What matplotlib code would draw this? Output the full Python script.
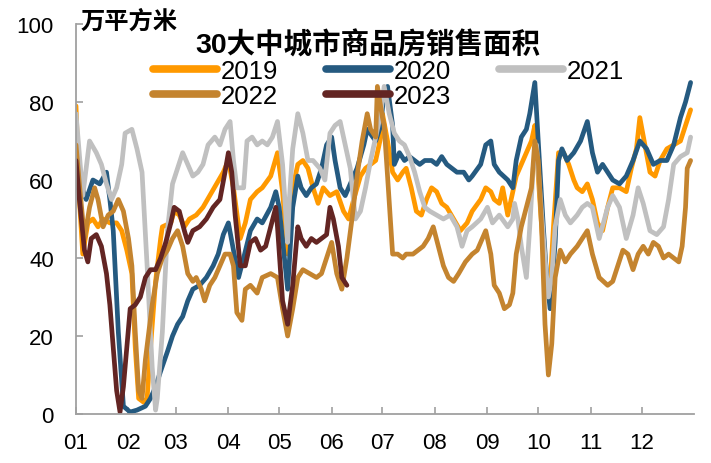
import matplotlib
matplotlib.use("Agg")
import matplotlib.pyplot as plt

# ---------------- data (day of year, value in 万平方米) ----------------
months = ["01", "02", "03", "04", "05", "06", "07", "08", "09", "10", "11", "12"]
month_start = [0, 31, 59, 90, 120, 151, 181, 212, 243, 273, 304, 334]

d2019 = [0, 2, 4, 7, 10, 13, 16, 20, 24, 27, 30, 33, 35, 37, 40, 42, 44, 47, 50, 51, 56, 58, 61, 64, 67, 71, 75, 79,
         83, 87, 90, 93, 97, 100, 103, 107, 110, 115, 119, 122, 125, 128, 131, 134, 137, 140, 143, 146, 150, 154,
         158, 161, 164, 168, 171, 174, 177, 180, 181, 184, 187, 190, 193, 195, 198, 201, 204, 207, 210, 213, 216,
         219, 223, 227, 231, 234, 239, 242, 245, 247, 250, 252, 255, 257, 260, 263, 266, 269, 271, 273, 275, 278,
         280, 282, 285, 288, 291, 294, 296, 299, 302, 305, 308, 311, 314, 317, 321, 325, 328, 331, 333, 336, 339,
         342, 345, 349, 353, 357, 360, 363]
v2019 = [79, 55, 41, 49, 50, 48, 50, 49, 49, 47, 42, 36, 17, 4, 3, 4, 17, 34, 45, 48, 49, 52, 51, 48, 50, 51, 53, 56,
         59, 62, 65, 58, 45, 49, 55, 57, 58, 61, 67, 57, 41, 58, 64, 65, 63, 58, 54, 58, 56, 57,
         52, 50, 55, 61, 63, 64, 65, 71, 77, 70, 62, 60, 62, 63, 58, 52, 51, 55, 58, 57, 54,
         53, 50, 47, 49, 52, 55, 58, 57, 55, 54, 58, 51, 55, 61, 64, 67, 70, 74, 61, 48, 31,
         33, 48, 67, 67, 64, 60, 58, 57, 59, 55, 49, 47, 53, 58, 58, 57, 63, 68, 76, 69, 62,
         61, 65, 68, 69, 70, 74, 78]

d2020 = [0, 2, 6, 10, 14, 18, 20, 22, 25, 28, 32, 36, 41, 44, 47, 50, 54, 57, 60, 63, 66, 69, 73, 77, 81, 84, 87, 90,
         93, 96, 99, 103, 107, 110, 115, 118, 120, 125, 128, 131, 133, 136, 139, 142, 145, 148, 151, 153, 156, 159,
         162, 166, 170, 172, 177, 180, 182, 184, 187, 188, 191, 194, 197, 200, 203, 206, 210, 213, 216, 219, 222,
         225, 229, 232, 234, 239, 242, 245, 247, 250, 255, 258, 260, 263, 266, 268, 271, 273, 276, 278, 280, 283,
         285, 287, 290, 294, 298, 302, 305, 308, 311, 314, 317, 321, 325, 329, 333, 337, 341, 345, 349, 353, 357,
         360, 363]
v2020 = [58, 60, 55, 60, 59, 62, 55, 47, 21, 2, 0.5, 1, 2, 4, 7, 11, 16, 20, 23, 25, 29, 32, 33, 35, 38, 41, 46, 49,
         42, 35, 40, 47, 50, 49, 53, 57, 53, 32, 53, 61, 58, 56, 58, 59, 63, 69, 71, 65, 58, 56,
         59, 63, 69, 73, 70, 74, 83, 84, 74, 64, 67, 65, 66, 65, 64, 65, 65, 64, 66, 64, 63,
         62, 62, 60, 61, 64, 69, 70, 64, 62, 60, 58, 65, 71, 73, 77, 85, 70, 48, 35, 27, 44,
         65, 68, 65, 67, 70, 75, 67, 62, 64, 62, 60, 59, 61, 65, 70, 68, 64, 65, 65, 69, 76,
         80, 85]

d2021 = [0, 4, 8, 12, 15, 18, 21, 24, 27, 29, 33, 36, 39, 42, 45, 47, 48, 51, 54, 57, 60, 63, 66, 69, 72, 75, 78, 82,
         85, 88, 91, 93, 95, 99, 101, 104, 107, 110, 113, 116, 119, 122, 125, 126, 128, 131, 134, 137, 140, 144,
         147, 150, 153, 156, 159, 162, 165, 168, 171, 174, 177, 180, 182, 185, 188, 191, 194, 197, 200, 203, 206,
         209, 213, 217, 221, 225, 228, 231, 234, 239, 243, 246, 250, 255, 258, 259, 261, 263, 266, 268, 270, 272,
         274, 277, 279, 281, 283, 286, 289, 292, 296, 299, 302, 305, 309, 314, 317, 321, 325, 329, 332, 335, 339,
         343, 347, 350, 353, 357, 361, 363]
v2021 = [77, 56, 70, 67, 64, 59, 55, 58, 64, 72, 73, 68, 62, 38, 12, 1, 4, 21, 47, 59, 63, 67, 64, 61, 62, 64, 69, 71,
         69, 73, 75, 65, 58, 58, 70, 71, 69, 70, 69, 71, 75, 64, 44, 55, 68, 77, 72, 65, 65, 63,
         60, 72, 74, 75, 69, 63, 50, 52, 58, 65, 71, 77, 84, 77, 72, 70, 69, 66, 62, 57, 53,
         52, 51, 50, 51, 48, 43, 47, 48, 50, 53, 49, 51, 48, 50, 54, 50, 43, 35, 48, 63, 69,
         57, 40, 30, 35, 48, 55, 51, 49, 51, 53, 54, 53, 45, 53, 56, 53, 45, 51, 58, 54, 47,
         46, 48, 55, 64, 66, 67, 71]

d2022 = [0, 2, 5, 8, 11, 13, 16, 19, 22, 25, 28, 31, 33, 35, 37, 39, 41, 43, 45, 48, 51, 54, 57, 60, 63, 66, 69, 71,
         74, 76, 79, 82, 85, 88, 91, 93, 95, 98, 100, 103, 107, 110, 115, 119, 122, 125, 128, 131, 134, 138, 142,
         145, 148, 151, 154, 157, 160, 163, 166, 169, 172, 174, 177, 178, 181, 182, 184, 187, 190, 193, 195, 199,
         202, 205, 208, 211, 214, 217, 220, 223, 226, 230, 234, 237, 242, 245, 247, 250, 253, 256, 258, 260, 263,
         266, 269, 271, 273, 275, 277, 279, 281, 283, 286, 289, 292, 296, 299, 302, 305, 309, 314, 317, 320, 323,
         326, 329, 332, 335, 338, 341, 344, 347, 350, 353, 356, 358, 360, 361, 363]
v2022 = [69, 59, 45, 53, 58, 55, 48, 51, 52, 55, 52, 45, 38, 21, 6, 4, 14, 21, 28, 36, 40, 42, 45, 47, 43, 36, 34, 35,
         32, 29, 33, 35, 38, 41, 41, 38, 26, 24, 32, 33, 31, 35, 36, 35, 27, 20, 27, 35, 37, 36, 35,
         36, 40, 44, 36, 32, 40, 50, 61, 70, 77, 73, 71, 84, 76, 74, 61, 41, 41, 40, 41, 41,
         42, 43, 45, 48, 43, 38, 35, 34, 36, 39, 41, 42, 47, 41, 33, 31, 27, 28, 31, 41, 48,
         53, 58, 70, 65, 48, 23, 10, 18, 35, 42, 39, 41, 43, 45, 47, 41, 35, 33, 34, 38, 42,
         41, 37, 41, 43, 41, 44, 43, 40, 41, 40, 39, 43, 53, 63, 65]

d2023 = [0, 2, 5, 7, 9, 12, 15, 18, 20, 22, 24, 26, 28, 30, 32, 35, 38, 41, 44, 47, 50, 53, 56, 58, 61, 64, 66, 69,
         73, 77, 81, 85, 88, 90, 92, 94, 97, 100, 103, 106, 109, 112, 115, 118, 119, 122, 125, 128, 131, 133, 136,
         139, 142, 145, 148, 150, 152, 155, 157, 160]
v2023 = [65, 55, 42, 39, 45, 46, 43, 36, 28, 17, 6, 0.5, 7, 17, 27, 28, 30, 35, 37, 37, 40, 44, 49, 53, 52, 47, 44, 47,
         48, 50, 53, 55, 62, 67, 62, 51, 38, 38, 44, 45, 42, 43, 48, 53, 48, 29, 23, 33, 48, 45, 43,
         45, 44, 45, 46, 53, 50, 43, 35, 33]

series = [
    ("2019", d2019, v2019, "#FF9900"),
    ("2020", d2020, v2020, "#255A80"),
    ("2021", d2021, v2021, "#C0C0C0"),
    ("2022", d2022, v2022, "#C4842F"),
    ("2023", d2023, v2023, "#632523"),
]

title = "30大中城市商品房销售面积"
unit = "万平方米"

# ---------------- plotting ----------------
plt.rcParams['font.family'] = ['Liberation Sans', 'Noto Sans CJK SC', 'DejaVu Sans']

fig = plt.figure(figsize=(7.11, 4.64), dpi=100)
ax = fig.add_axes([76 / 711, 49 / 464, 618 / 711, 390 / 464])

lines = {}
for name, d, v, c in series:
    ln, = ax.plot(d, v, color=c, lw=3.4, solid_joinstyle='round', solid_capstyle='round', label=name)
    lines[name] = ln

ax.set_xlim(0, 365)
ax.set_ylim(0, 100)
ax.set_xticks(month_start)
ax.set_xticklabels(months)
ax.set_yticks([0, 20, 40, 60, 80, 100])

for s in ["top", "right"]:
    ax.spines[s].set_visible(False)
for s in ["left", "bottom"]:
    ax.spines[s].set_color("#A0A0A0")
    ax.spines[s].set_linewidth(1.3)
ax.tick_params(axis='both', direction='in', length=5, width=1.2, color="#A0A0A0",
               labelsize=16, labelcolor="black")
ax.tick_params(axis='y', pad=16)
ax.tick_params(axis='x', pad=13)

order = ["2019", "2022", "2020", "2023", "2021"]
leg = ax.legend([lines[k] for k in order], order, ncol=3, frameon=False,
                loc='upper left', bbox_to_anchor=(153 / 711, 1 - 60 / 464),
                bbox_transform=fig.transFigure, fontsize=18.5,
                handlelength=2.5, handletextpad=0.15, columnspacing=1.85,
                labelspacing=0.05, borderpad=0, borderaxespad=0)
for h in leg.legend_handles:
    h.set_linewidth(5.5)

fig.text(368 / 711, 1 - 45 / 464, title, ha='center', va='center', fontsize=20.5, fontweight='bold',
         family=['Liberation Sans', 'Noto Sans CJK SC'])
fig.text(81 / 711, 1 - 22 / 464, unit, ha='left', va='center', fontsize=17.5,
         family=['Noto Sans CJK SC'], fontweight='bold')

fig.savefig("out.png", dpi=100)
